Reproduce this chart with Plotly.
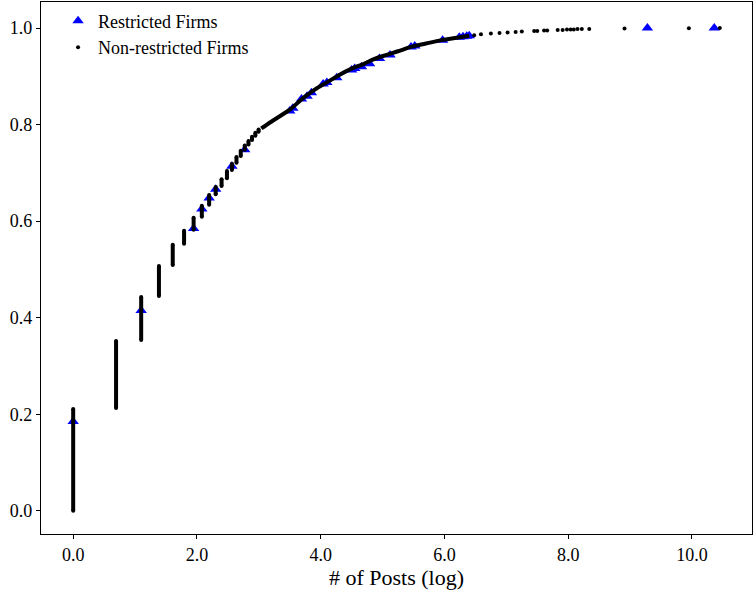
import plotly.graph_objects as go

# Restricted firms (blue triangles): x = log(# posts), y = cumulative share
restricted_x = [0.0, 1.099, 1.946, 2.079, 2.197, 2.303, 2.565, 2.773, 3.50, 3.55, 3.69, 3.78, 3.85,
                4.04, 4.10, 4.26, 4.50, 4.55, 4.66, 4.79, 4.95, 5.12, 5.46, 5.52, 5.97, 6.24, 6.30,
                6.36, 6.40, 9.28, 10.36]
restricted_y = [0.185, 0.415, 0.585, 0.625, 0.648, 0.666, 0.714, 0.748, 0.828, 0.834, 0.853, 0.859,
                0.866, 0.884, 0.887, 0.897, 0.913, 0.916, 0.920, 0.926, 0.937, 0.944, 0.961, 0.963,
                0.975, 0.981, 0.982, 0.983, 0.984, 1.0, 1.0]

# Non-restricted firms: vertical stacks of points at low post counts
stack_x = [0.0, 0.693, 1.099, 1.386, 1.609, 1.792, 1.946, 2.079, 2.197, 2.303, 2.398, 2.485,
           2.565, 2.639, 2.708, 2.773, 2.833, 2.890, 2.944, 2.996]
stack_lo = [0.000, 0.213, 0.354, 0.445, 0.509, 0.553, 0.582, 0.609, 0.634, 0.656, 0.673, 0.689,
            0.706, 0.721, 0.735, 0.748, 0.759, 0.768, 0.777, 0.785]
stack_hi = [0.211, 0.352, 0.443, 0.507, 0.551, 0.580, 0.607, 0.632, 0.654, 0.671, 0.687, 0.704,
            0.719, 0.733, 0.746, 0.757, 0.766, 0.775, 0.783, 0.790]

# Non-restricted firms: dense middle part of the curve
curve_x = [3.04, 3.20, 3.42, 3.53, 3.67, 3.80, 3.91, 4.12, 4.30, 4.50, 4.70, 4.87, 5.05, 5.25,
           5.46, 5.70, 5.95, 6.20, 6.40]
curve_y = [0.792, 0.806, 0.824, 0.834, 0.850, 0.863, 0.873, 0.889, 0.903, 0.916, 0.926, 0.936,
           0.944, 0.952, 0.961, 0.968, 0.975, 0.980, 0.984]

# Non-restricted firms: sparse tail points
tail_x = [6.48, 6.59, 6.75, 6.89, 7.02, 7.15, 7.25, 7.45, 7.50, 7.61, 7.66, 7.83, 7.91, 7.98,
          8.04, 8.09, 8.15, 8.22, 8.34, 8.91, 9.95, 10.45]
tail_y = [0.985, 0.987, 0.989, 0.990, 0.991, 0.992, 0.993, 0.994, 0.994, 0.995, 0.995, 0.996,
          0.996, 0.997, 0.997, 0.997, 0.998, 0.998, 0.998, 0.999, 0.9995, 1.0]

x_ticks = [0, 2, 4, 6, 8, 10]
x_tick_labels = ["0.0", "2.0", "4.0", "6.0", "8.0", "10.0"]
y_ticks = [0.0, 0.2, 0.4, 0.6, 0.8, 1.0]
y_tick_labels = ["0.0", "0.2", "0.4", "0.6", "0.8", "1.0"]

FONT = "Liberation Serif, Times New Roman, serif"

seg_x, seg_y = [], []
for x, lo, hi in zip(stack_x, stack_lo, stack_hi):
    seg_x += [x, x, None]
    seg_y += [lo, hi, None]

fig = go.Figure()
fig.add_trace(go.Scatter(
    x=restricted_x, y=restricted_y, mode="markers", name="Restricted Firms",
    marker=dict(symbol="triangle-up", size=10, color="#0000ff", line=dict(width=0)),
))
fig.add_trace(go.Scatter(
    x=seg_x, y=seg_y, mode="lines+markers", showlegend=False, hoverinfo="skip",
    line=dict(color="black", width=4), marker=dict(size=4, color="black"),
))
fig.add_trace(go.Scatter(
    x=curve_x, y=curve_y, mode="lines", showlegend=False, hoverinfo="skip",
    line=dict(color="black", width=4, shape="spline"),
))
fig.add_trace(go.Scatter(
    x=tail_x, y=tail_y, mode="markers", name="Non-restricted Firms",
    marker=dict(size=4, color="black"),
))

axis_common = dict(
    showline=True, linecolor="black", linewidth=1.3, mirror=True,
    ticks="outside", ticklen=4, tickwidth=1, tickcolor="black",
    showgrid=False, zeroline=False,
    tickfont=dict(family=FONT, size=18, color="black"),
)

fig.update_layout(
    width=756, height=595,
    margin=dict(l=41, r=4, t=2, b=61),
    paper_bgcolor="white", plot_bgcolor="white",
    font=dict(family=FONT, color="black"),
    xaxis=dict(range=[-0.52, 10.97], tickvals=x_ticks, ticktext=x_tick_labels,
               title=dict(text="# of Posts (log)", font=dict(family=FONT, size=22, color="black"),
                          standoff=3),
               **axis_common),
    yaxis=dict(range=[-0.048, 1.054], tickvals=y_ticks, ticktext=y_tick_labels, **axis_common),
    legend=dict(x=0.024, y=0.999, xanchor="left", yanchor="top", bgcolor="rgba(0,0,0,0)",
                font=dict(family=FONT, size=18, color="black"), itemsizing="trace",
                tracegroupgap=0),
)

fig.write_html("out.html")
